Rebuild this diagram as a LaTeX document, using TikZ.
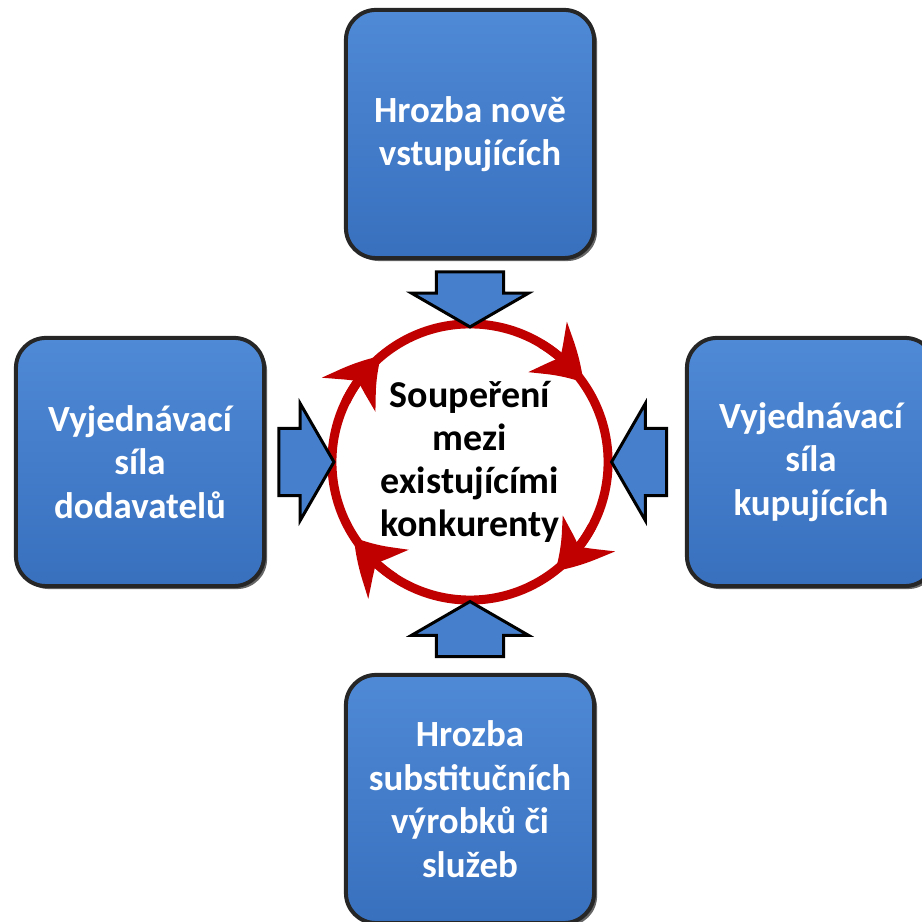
\documentclass[tikz,border=0pt]{standalone}
\usepackage{fontspec}
\setmainfont{Carlito}
\usepackage{tikz}
\usetikzlibrary{arrows.meta, bending, shapes.arrows, shadows}
\definecolor{boxblue}{HTML}{4680CC}
\definecolor{boxbluetop}{HTML}{4F8AD6}
\definecolor{boxbluebot}{HTML}{3870BE}
\definecolor{ringred}{HTML}{C00000}
\tikzset{
    forcebox/.style={
        rectangle,
        rounded corners=0.3cm,
        minimum width=2.48cm,
        minimum height=2.48cm,
        top color=boxbluetop,
        bottom color=boxbluebot,
        draw=black!85,
        line width=0.04cm,
        drop shadow={shadow xshift=0.03cm, shadow yshift=-0.03cm, opacity=0.6, fill=black},
        text=white,
        align=center,
        font=\bfseries\fontsize{10.5}{12.4}\selectfont % bily text
    },
    rivalring/.style={
        circle,
        minimum size=2.76cm,
        draw=ringred,
        line width=0.09cm,
        fill=white,
        align=center,
        font=\bfseries\fontsize{10.8}{12.2}\selectfont
    },
    flowarrow/.style={
        single arrow,
        sloped, allow upside down, pos=0.5,
        minimum height=0.55cm,
        minimum width=1.15cm,
        single arrow head extend=0.25cm,
        single arrow tip angle=120,
        inner xsep=0pt, inner ysep=0.32cm,
        fill=boxblue,
        draw=black,
        line width=0.03cm
    },
    ringtip/.style={draw=ringred, line width=0.09cm, -{Stealth[length=0.5cm, width=0.62cm, inset=0.16cm, bend]}}
}

\begin{document}
\begin{tikzpicture}[x=0.01cm, y=0.01cm]
    \useasboundingbox (0,0) rectangle (921,922);

    \node[rivalring] (rival) at (470,460) {Soupeření\\mezi\\existujícími\\konkurenty};

    \node[forcebox] (entrants) at (470,788) {Hrozba nově\\vstupujících};
    \node[forcebox] (suppliers) at (140,460) {Vyjednávací\\síla\\dodavatelů};
    \node[forcebox] (buyers) at (811,460) {Vyjednávací\\síla\\kupujících};
    \node[forcebox] (substitutes) at (470,123) {Hrozba\\substitučních\\výrobků či\\služeb};

    % sipky k souperi
    \path (entrants.south) -- (rival.north) node[flowarrow] (fromentrants) {};
    \path (suppliers.east) -- (rival.west) node[flowarrow] (fromsuppliers) {};
    \path (buyers.west) -- (rival.east) node[flowarrow] (frombuyers) {};
    \path (substitutes.north) -- (rival.south) node[flowarrow] (fromsubstitutes) {};

    % sipky na kruhu
    \foreach \a in {35,-52,-147,130}
        \draw[ringtip] ([shift={(\a+24:138)}]rival.center) arc[start angle=\a+24, end angle=\a, radius=138];

\end{tikzpicture}
\end{document}
